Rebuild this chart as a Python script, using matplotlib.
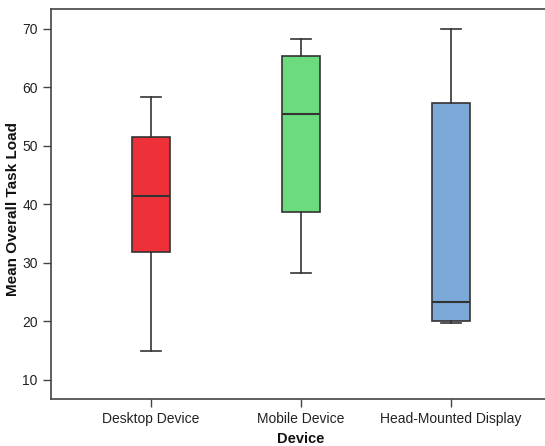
import matplotlib
matplotlib.use('Agg')
import matplotlib.pyplot as plt

plt.rcParams['font.family'] = ['Liberation Sans', 'DejaVu Sans']

devices = ['Desktop Device', 'Mobile Device', 'Head-Mounted Display']
whisker_low = [15.0, 28.3, 19.7]
q1 = [31.9, 38.7, 20.0]
median = [41.5, 55.4, 23.3]
q3 = [51.6, 65.3, 57.3]
whisker_high = [58.3, 68.3, 70.0]
colors = ['#EE3139', '#6CDB7E', '#7BA8D7']

stats = []
for i, name in enumerate(devices):
    stats.append({'label': name, 'whislo': whisker_low[i], 'q1': q1[i],
                  'med': median[i], 'q3': q3[i], 'whishi': whisker_high[i],
                  'fliers': []})

fig = plt.figure(figsize=(5.45, 4.46), dpi=100)
# frame runs off the right edge of the picture, like the original
ax = fig.add_axes([0.0936, 0.1054, 0.9164, 0.8745])

line_col = '#333333'
bp = ax.bxp(stats, positions=range(len(devices)), widths=0.25, patch_artist=True,
            showfliers=False,
            boxprops=dict(edgecolor=line_col, linewidth=1.2),
            medianprops=dict(color=line_col, linewidth=1.5),
            whiskerprops=dict(color=line_col, linewidth=1.2),
            capprops=dict(color=line_col, linewidth=1.2),
            capwidths=0.13)
for patch, c in zip(bp['boxes'], colors):
    patch.set_facecolor(c)

ax.set_xlim(-0.667, 2.663)
ax.set_ylim(6.75, 73.4)
ax.set_yticks([10, 20, 30, 40, 50, 60, 70])
ax.set_xticks(range(len(devices)))
ax.set_xticklabels(devices)
ax.tick_params(axis='both', colors='#444444', labelcolor='#222222', labelsize=10,
               length=6, width=1.0)
for s in ax.spines.values():
    s.set_color('#444444')
    s.set_linewidth(1.2)
ax.spines['right'].set_visible(False)

ax.set_ylabel('Mean Overall Task Load', fontweight='bold', fontsize=11, color='#111111')
ax.yaxis.set_label_coords(-0.062, 0.487)
ax.set_xlabel('Device', fontweight='bold', fontsize=10.5, color='#111111', labelpad=4)

plt.savefig('out.png', dpi=100)
